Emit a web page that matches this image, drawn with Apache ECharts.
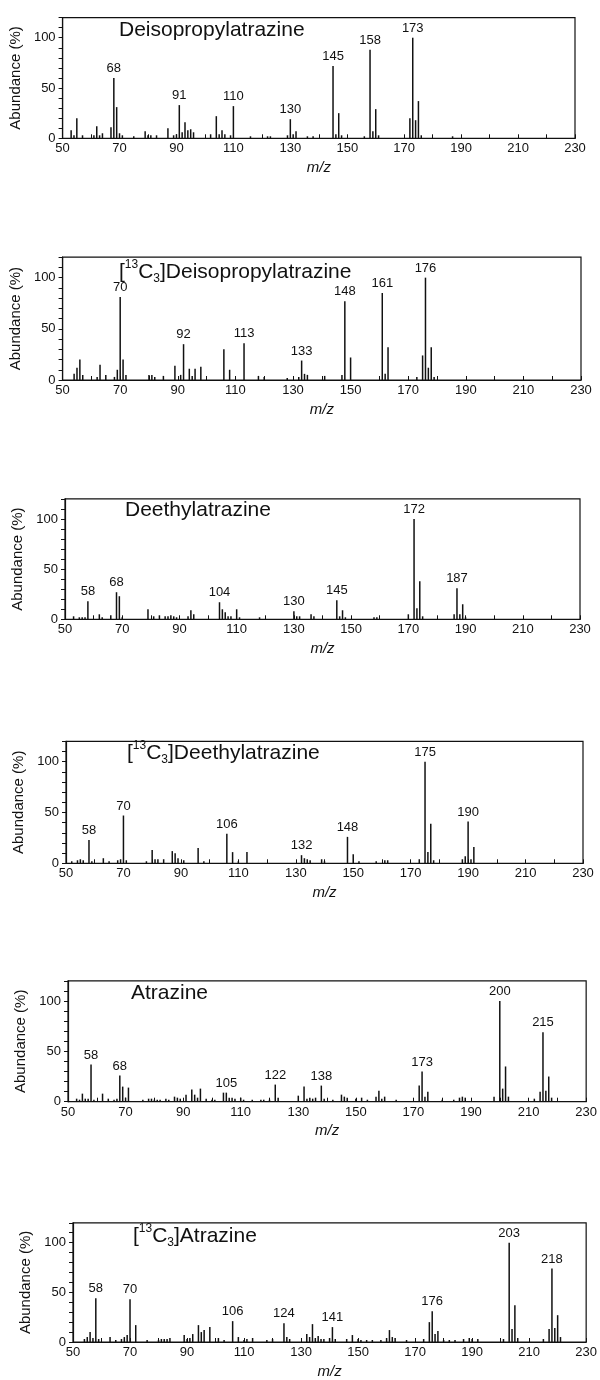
<!DOCTYPE html>
<html>
<head>
<meta charset="utf-8">
<title>Mass spectra of atrazine and its dealkylated metabolites</title>
<script src="https://cdn.jsdelivr.net/npm/echarts@6/dist/echarts.min.js"></script>
<style>
  html, body { margin: 0; padding: 0; background: #fff; }
  #chart { width: 600px; height: 1380px; }
</style>
</head>
<body>
<div id="chart"></div>
<script>
// Spectrum titles (rich text: superscript 13, subscript 3)
const titles = [
  '{b|Deisopropylatrazine}',
  '{b|[}{s|13}{b|C}{u|3}{b|]Deisopropylatrazine}',
  '{b|Deethylatrazine}',
  '{b|[}{s|13}{b|C}{u|3}{b|]Deethylatrazine}',
  '{b|Atrazine}',
  '{b|[}{s|13}{b|C}{u|3}{b|]Atrazine}'
];

// Axis tick labels
const xTickLabels = [50, 70, 90, 110, 130, 150, 170, 190, 210, 230];
const yTickLabels = [0, 50, 100];

// [m/z, relative abundance %]
const deisopropylatrazine = [
  [53, 8], [54, 3], [55, 20], [57, 3], [61, 3], [62, 12], [63, 3], [64, 5], [67, 11], [68, 60],
  [69, 31], [70, 5], [71, 3], [75, 2], [79, 7], [80, 3], [81, 3], [83, 3], [87, 10], [89, 3],
  [90, 4], [91, 33], [92, 6], [93, 16], [94, 8], [95, 9], [96, 6], [102, 4], [104, 22], [105, 4],
  [106, 8], [107, 4], [109, 3], [110, 32], [116, 2], [122, 2], [123, 2], [129, 3], [130, 19], [131, 4],
  [132, 7], [136, 2], [138, 2], [145, 72], [146, 4], [147, 25], [148, 3], [156, 2], [158, 88], [159, 7],
  [160, 29], [161, 3], [172, 20], [173, 100], [174, 18], [175, 37], [176, 3], [187, 2]
];
const deisopropylatrazineLabels = [68, 91, 110, 130, 145, 158, 173];

const deisopropylatrazine13C3 = [
  [54, 6], [55, 12], [56, 20], [57, 5], [62, 3], [63, 15], [65, 5], [68, 3], [69, 10], [70, 81],
  [71, 20], [72, 5], [80, 5], [81, 5], [82, 3], [85, 4], [89, 14], [91, 5], [92, 35], [94, 11],
  [95, 4], [96, 11], [98, 13], [106, 30], [108, 10], [113, 36], [118, 4], [120, 3], [128, 2], [132, 3],
  [133, 19], [134, 6], [135, 5], [141, 4], [147, 5], [148, 77], [150, 22], [161, 85], [162, 6], [163, 32],
  [173, 3], [175, 24], [176, 100], [177, 12], [178, 32], [179, 3]
];
const deisopropylatrazine13C3Labels = [70, 92, 113, 133, 148, 161, 176];

const deethylatrazine = [
  [53, 3], [55, 2], [56, 2], [57, 2], [58, 18], [62, 5], [63, 2], [66, 4], [68, 27], [69, 23],
  [70, 2], [79, 10], [81, 3], [83, 4], [85, 3], [86, 3], [87, 4], [88, 3], [89, 2], [93, 3],
  [94, 9], [95, 5], [104, 17], [105, 10], [106, 7], [107, 3], [108, 3], [110, 10], [111, 2], [118, 2],
  [130, 8], [131, 3], [132, 3], [136, 5], [137, 3], [145, 19], [146, 3], [147, 9], [148, 2], [158, 2],
  [159, 2], [170, 5], [172, 100], [173, 11], [174, 38], [175, 3], [186, 5], [187, 31], [188, 5], [189, 15],
  [190, 2]
];
const deethylatrazineLabels = [58, 68, 104, 130, 145, 172, 187];

const deethylatrazine13C3 = [
  [52, 2], [54, 3], [55, 4], [56, 3], [58, 23], [59, 2], [63, 5], [65, 2], [68, 3], [69, 4],
  [70, 47], [71, 3], [78, 2], [80, 13], [81, 4], [82, 4], [84, 4], [87, 12], [88, 10], [89, 5],
  [91, 3], [96, 15], [98, 2], [106, 29], [108, 11], [110, 2], [113, 11], [132, 8], [133, 5], [134, 4],
  [135, 3], [139, 4], [140, 2], [148, 26], [150, 9], [152, 2], [158, 2], [161, 3], [162, 3], [173, 4],
  [175, 100], [176, 11], [177, 39], [178, 3], [188, 4], [189, 7], [190, 41], [191, 4], [192, 16]
];
const deethylatrazine13C3Labels = [58, 70, 106, 132, 148, 175, 190];

const atrazine = [
  [53, 3], [54, 2], [55, 8], [56, 3], [57, 3], [58, 37], [59, 2], [62, 8], [64, 3], [66, 2],
  [67, 3], [68, 26], [69, 15], [70, 4], [71, 14], [76, 2], [78, 3], [79, 3], [80, 2], [81, 2],
  [82, 2], [84, 3], [85, 2], [87, 5], [88, 4], [89, 3], [91, 7], [93, 12], [94, 7], [95, 4],
  [96, 13], [98, 3], [100, 2], [101, 2], [104, 9], [105, 9], [106, 4], [107, 4], [108, 3], [110, 4],
  [111, 2], [114, 2], [117, 2], [118, 2], [120, 2], [122, 17], [123, 4], [130, 6], [132, 15], [133, 3],
  [134, 4], [135, 3], [136, 4], [138, 16], [139, 3], [142, 2], [145, 7], [146, 5], [147, 4], [150, 3],
  [152, 4], [154, 2], [157, 5], [158, 11], [159, 3], [160, 5], [164, 2], [172, 16], [173, 30], [174, 5],
  [175, 10], [180, 2], [184, 2], [186, 4], [187, 5], [188, 4], [198, 5], [200, 100], [201, 13], [202, 35],
  [203, 5], [212, 3], [214, 10], [215, 69], [216, 11], [217, 25], [218, 4]
];
const atrazineLabels = [58, 68, 105, 122, 138, 173, 200, 215];

const atrazine13C3 = [
  [54, 3], [55, 5], [56, 10], [57, 4], [58, 44], [59, 3], [63, 5], [65, 2], [67, 3], [68, 5],
  [69, 7], [70, 43], [72, 17], [76, 2], [80, 2], [81, 3], [82, 3], [83, 3], [84, 4], [89, 7],
  [90, 3], [91, 4], [92, 8], [94, 17], [95, 10], [96, 12], [98, 15], [101, 4], [103, 2], [106, 21],
  [108, 5], [110, 2], [111, 3], [113, 4], [118, 2], [120, 3], [124, 19], [125, 5], [126, 3], [132, 8],
  [133, 5], [134, 18], [135, 4], [136, 6], [137, 3], [138, 3], [140, 4], [141, 15], [142, 3], [146, 3],
  [148, 7], [150, 3], [151, 2], [153, 2], [155, 2], [158, 2], [160, 4], [161, 12], [162, 5], [163, 4],
  [167, 2], [173, 3], [175, 20], [176, 31], [177, 8], [178, 11], [180, 2], [182, 2], [184, 2], [187, 3],
  [189, 4], [190, 3], [192, 3], [201, 3], [203, 100], [204, 13], [205, 37], [206, 4], [215, 3], [217, 13],
  [218, 74], [219, 14], [220, 27], [221, 5]
];
const atrazine13C3Labels = [58, 70, 106, 124, 141, 176, 203, 218];

const spectra = [
  deisopropylatrazine, deisopropylatrazine13C3, deethylatrazine,
  deethylatrazine13C3, atrazine, atrazine13C3
];
const peakLabels = [
  deisopropylatrazineLabels, deisopropylatrazine13C3Labels, deethylatrazineLabels,
  deethylatrazine13C3Labels, atrazineLabels, atrazine13C3Labels
];

// Plot boxes (px) and title anchors for the six stacked panels
const boxes = [
  { left: 59, top: 17.6, width: 516, height: 120.7, tx: 119, ty: 30 },
  { left: 61, top: 257.2, width: 520, height: 122.8, tx: 119, ty: 272 },
  { left: 65, top: 498.9, width: 515, height: 120.4, tx: 125, ty: 510 },
  { left: 66, top: 741.3, width: 517, height: 122, tx: 127, ty: 753 },
  { left: 68, top: 980.9, width: 520, height: 120.8, tx: 131, ty: 993 },
  { left: 73, top: 1222.8, width: 518, height: 123.2, tx: 133, ty: 1236 }
];

const FONT = '"Liberation Sans", Arial, Helvetica, sans-serif';
const INK = '#111';

const grid = [], xAxis = [], yAxis = [], series = [], title = [];

boxes.forEach((b, i) => {
  grid.push({
    left: b.left, top: b.top, width: b.width, height: b.height,
    show: true, borderColor: INK, borderWidth: 1.2, backgroundColor: 'transparent'
  });
  title.push({
    text: titles[i], left: b.tx, top: b.ty - 13, padding: 0,
    textStyle: {
      fontWeight: 'normal',
      rich: {
        b: { fontFamily: FONT, fontSize: 21, fontWeight: 'normal', color: INK, lineHeight: 26 },
        s: { fontFamily: FONT, fontSize: 12, fontWeight: 'normal', color: INK, lineHeight: 12, verticalAlign: 'top' },
        u: { fontFamily: FONT, fontSize: 12, fontWeight: 'normal', color: INK, lineHeight: 12, verticalAlign: 'bottom' }
      }
    }
  });
  xAxis.push({
    type: 'value', gridIndex: i, min: 50, max: 230, interval: 10,
    name: 'm/z', nameLocation: 'middle', nameGap: 22,
    nameTextStyle: { fontFamily: FONT, fontSize: 15, fontStyle: 'italic', color: INK },
    axisLine: { show: true, onZero: false, lineStyle: { color: INK, width: 1.2 } },
    axisTick: { show: true, inside: true, length: 4, lineStyle: { color: INK } },
    axisLabel: {
      margin: 4, fontFamily: FONT, fontSize: 13, color: INK,
      formatter: v => xTickLabels.includes(v) ? String(v) : ''
    },
    splitLine: { show: false }
  });
  yAxis.push({
    type: 'value', gridIndex: i, min: 0, max: 120, interval: 10,
    name: 'Abundance (%)', nameLocation: 'middle', nameGap: 30,
    nameTextStyle: { fontFamily: FONT, fontSize: 15, color: INK },
    axisLine: { show: true, lineStyle: { color: INK, width: 1.2 } },
    axisTick: { show: true, inside: false, length: 4, lineStyle: { color: INK } },
    axisLabel: {
      margin: 7, fontFamily: FONT, fontSize: 13, color: INK,
      formatter: v => yTickLabels.includes(v) ? String(v) : ''
    },
    splitLine: { show: false }
  });
  const labels = peakLabels[i];
  series.push({
    type: 'bar', xAxisIndex: i, yAxisIndex: i,
    barWidth: 1.5,
    itemStyle: { color: INK },
    label: {
      position: 'top', distance: 3,
      fontFamily: FONT, fontSize: 13, color: INK,
      formatter: p => String(p.value[0])
    },
    data: spectra[i].map(([mz, ab]) => ({
      value: [mz, ab],
      label: { show: labels.includes(mz) }
    }))
  });
});

const chart = echarts.init(document.getElementById('chart'), null, { renderer: 'canvas' });
chart.setOption({
  animation: false,
  backgroundColor: '#fff',
  title, grid, xAxis, yAxis, series
});
</script>
</body>
</html>
